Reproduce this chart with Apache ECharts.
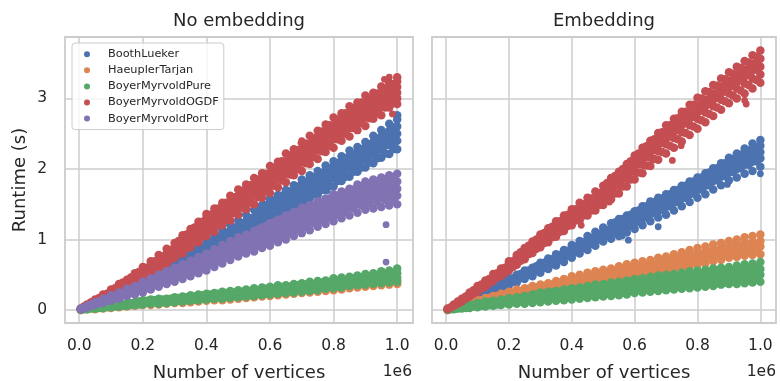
<!DOCTYPE html>
<html><head><meta charset="utf-8">
<script src="https://cdn.jsdelivr.net/npm/echarts@6/dist/echarts.min.js"></script>
<style>html,body{margin:0;padding:0;background:#fff}#chart{width:780px;height:381px}</style>
</head><body><div id="chart"></div>
<script>
// ---------- data ----------
const seriesNames = ['BoothLueker', 'HaeuplerTarjan', 'BoyerMyrvoldPure', 'BoyerMyrvoldOGDF', 'BoyerMyrvoldPort'];
const panelTitles = ['No embedding', 'Embedding'];
const xTicks = [0, 200000, 400000, 600000, 800000, 1000000];
const yTicks = [0, 1, 2, 3];
// number of vertices for the runs (two interleaved sets of columns)
const vertexCounts = [5000, 25000, 50000, 75000, 100000, 125000, 150000, 175000, 200000, 225000,
  250000, 275000, 300000, 325000, 350000, 375000, 400000, 425000, 450000, 475000,
  500000, 525000, 550000, 575000, 600000, 625000, 650000, 675000, 700000, 725000,
  750000, 775000, 800000, 825000, 850000, 875000, 900000, 925000, 950000, 975000, 1000000];
const vertexCountsMid = [15000, 37500, 62500, 87500, 112500, 137500, 162500, 187500, 212500, 237500,
  262500, 287500, 312500, 337500, 362500, 387500, 412500, 437500, 462500, 487500,
  512500, 537500, 562500, 587500, 612500, 637500, 662500, 687500, 712500, 737500,
  762500, 787500, 812500, 837500, 862500, 887500, 912500, 937500, 962500, 987500];

// ----- No embedding panel: runtimes (s) -----
const noEmbBooth = [[0.01],[0.04,0.06],[0.07,0.10],[0.11,0.15],[0.14,0.18,0.22],[0.19,0.24,0.27],[0.24,0.29,0.33],[0.29,0.35,0.39],[0.34,0.40,0.46],[0.40,0.46,0.53],
  [0.45,0.51,0.56,0.60],[0.51,0.57,0.63,0.66],[0.57,0.63,0.68,0.74],[0.62,0.69,0.75,0.80],[0.69,0.76,0.81,0.88],[0.74,0.82,0.88,0.94],[0.80,0.87,0.93,1.01],[0.85,0.93,0.99,1.06],[0.92,1.00,1.07,1.14],[0.97,1.06,1.12,1.21],
  [1.03,1.11,1.18,1.27],[1.09,1.18,1.26,1.35],[1.16,1.25,1.32,1.42],[1.21,1.31,1.39,1.49],[1.27,1.37,1.45,1.53,1.58],[1.33,1.43,1.51,1.59,1.63],[1.38,1.49,1.57,1.66,1.70],[1.46,1.56,1.64,1.72,1.77],[1.50,1.62,1.70,1.78,1.85],[1.58,1.68,1.76,1.85,1.91],
  [1.63,1.74,1.83,1.92,1.97],[1.70,1.81,1.89,1.98,2.05],[1.75,1.87,1.95,2.04,2.11],[1.83,1.94,2.02,2.11,2.18],[1.89,2.01,2.09,2.18,2.26],[1.96,2.07,2.15,2.24,2.31],[2.02,2.14,2.22,2.31,2.38],[2.08,2.20,2.29,2.38,2.47],[2.16,2.28,2.37,2.46,2.55],[2.21,2.34,2.44,2.54,2.64],
  [2.28,2.40,2.50,2.60,2.70,2.76]];
const noEmbBoothMid = [[0.03],[0.06,0.08],[0.10,0.12],[0.14,0.17],[0.18,0.22],[0.23,0.28],[0.28,0.34],[0.34,0.40],[0.39,0.45],[0.44,0.51],
  [0.50,0.56],[0.55,0.61,0.65],[0.61,0.67,0.71],[0.67,0.73,0.78],[0.73,0.79,0.85],[0.79,0.85,0.91],[0.85,0.91,0.97],[0.91,0.98,1.04],[0.97,1.04,1.10],[1.03,1.10,1.17],
  [1.08,1.16,1.23],[1.14,1.22,1.30],[1.21,1.29,1.36,1.42],[1.27,1.35,1.43,1.49],[1.33,1.41,1.49,1.55],[1.39,1.47,1.55,1.62],[1.45,1.54,1.61,1.68],[1.51,1.60,1.68,1.75],[1.57,1.66,1.74,1.81],[1.64,1.73,1.80,1.88],
  [1.70,1.79,1.87,1.94],[1.76,1.86,1.93,2.01],[1.83,1.92,2.00,2.08],[1.89,1.99,2.07,2.15],[1.96,2.05,2.13,2.21],[2.02,2.12,2.20,2.28],[2.09,2.19,2.27,2.35],[2.15,2.26,2.35,2.43],[2.22,2.33,2.42,2.51],[2.29,2.41,2.50,2.59]];
const noEmbBoothExtra = [[990000,2.27],[990000,2.34],[780000,1.69],[876000,2.00],[880000,2.05],[700000,1.57]];

const noEmbHaeupler = [[0.00,0.01],[0.01,0.02],[0.01,0.03],[0.02,0.04],[0.03,0.05],[0.04,0.06],[0.05,0.07],[0.06,0.08],[0.07,0.10],[0.07,0.11],
  [0.08,0.11],[0.09,0.12],[0.10,0.13],[0.10,0.14],[0.11,0.15],[0.12,0.16],[0.13,0.17],[0.14,0.18],[0.14,0.19],[0.15,0.20],
  [0.16,0.21],[0.17,0.22],[0.18,0.23],[0.19,0.24],[0.20,0.25],[0.21,0.26],[0.22,0.27],[0.23,0.28],[0.24,0.29],[0.25,0.30],
  [0.26,0.32],[0.27,0.33],[0.28,0.34],[0.29,0.35],[0.31,0.37],[0.32,0.38],[0.33,0.39],[0.34,0.40],[0.35,0.41],[0.36,0.42],
  [0.37,0.43]];

const noEmbPure = [[0.00,0.01],[0.01,0.03],[0.02,0.04],[0.03,0.06],[0.04,0.07],[0.05,0.09],[0.06,0.10],[0.07,0.11],[0.08,0.12,0.14],[0.09,0.13,0.15],
  [0.09,0.13,0.16],[0.10,0.14,0.16],[0.11,0.15,0.18],[0.12,0.16,0.19],[0.13,0.17,0.21],[0.14,0.18,0.22],[0.15,0.19,0.23],[0.16,0.20,0.24],[0.16,0.21,0.26],[0.17,0.22,0.27],
  [0.18,0.23,0.28],[0.19,0.24,0.29],[0.20,0.25,0.31],[0.21,0.27,0.32],[0.22,0.28,0.33],[0.23,0.29,0.35],[0.24,0.30,0.35],[0.25,0.31,0.37],[0.26,0.32,0.38],[0.27,0.33,0.40],
  [0.28,0.35,0.41],[0.30,0.36,0.42],[0.31,0.38,0.45],[0.32,0.39,0.46],[0.34,0.41,0.47],[0.35,0.42,0.49],[0.36,0.43,0.51],[0.37,0.45,0.52],[0.38,0.46,0.55],[0.39,0.47,0.56],
  [0.40,0.46,0.52,0.59]];
const noEmbPureMid = [[0.01],[0.02,0.03],[0.03,0.05],[0.04,0.06],[0.05,0.08],[0.06,0.09],[0.07,0.10],[0.08,0.12],[0.10,0.13],[0.11,0.14],
  [0.11,0.15],[0.12,0.16],[0.13,0.17],[0.14,0.18],[0.15,0.19],[0.16,0.21],[0.17,0.22],[0.18,0.23],[0.19,0.24],[0.20,0.25],
  [0.20,0.26],[0.21,0.27],[0.23,0.28],[0.24,0.30],[0.25,0.31],[0.26,0.32],[0.27,0.33],[0.28,0.35],[0.29,0.36],[0.30,0.37],
  [0.32,0.39],[0.33,0.40],[0.34,0.42],[0.36,0.43],[0.37,0.45],[0.38,0.46],[0.40,0.48],[0.41,0.49],[0.42,0.50],[0.43,0.51]];

const noEmbOGDF = [[0.01,0.02],[0.05,0.08],[0.09,0.13,0.15],[0.14,0.19,0.22],[0.19,0.25,0.29],[0.25,0.30,0.37],[0.31,0.38,0.43],[0.38,0.45,0.52],[0.44,0.50,0.57,0.61],[0.51,0.58,0.64,0.69],
  [0.58,0.66,0.71,0.78],[0.66,0.73,0.80,0.87],[0.74,0.81,0.89,0.95],[0.80,0.90,0.98,1.06],[0.89,0.97,1.06,1.15],[0.96,1.06,1.14,1.25],[1.05,1.13,1.22,1.30,1.36],[1.11,1.22,1.30,1.38,1.44],[1.20,1.29,1.37,1.46,1.52],[1.27,1.38,1.46,1.53,1.62],
  [1.35,1.46,1.55,1.62,1.71],[1.43,1.53,1.62,1.71,1.78],[1.50,1.62,1.70,1.78,1.87],[1.59,1.69,1.78,1.87,1.94],[1.66,1.77,1.85,1.94,2.04],[1.74,1.86,1.94,2.02,2.10],[1.81,1.93,2.02,2.11,2.22],[1.91,2.01,2.10,2.19,2.28],[1.97,2.09,2.18,2.28,2.37],[2.07,2.17,2.27,2.36,2.47],
  [2.14,2.26,2.35,2.45,2.54],[2.24,2.34,2.44,2.53,2.63],[2.30,2.42,2.52,2.62,2.73],[2.40,2.50,2.60,2.70,2.79],[2.46,2.58,2.68,2.78,2.89],[2.55,2.65,2.75,2.85,2.94],[2.61,2.73,2.83,2.93,3.04],[2.71,2.81,2.90,2.99,3.08],[2.76,2.88,2.97,3.07,3.17],[2.87,2.95,3.04,3.13,3.22],
  [2.92,3.00,3.08,3.16,3.24,3.30]];
const noEmbOGDFMid = [[0.03,0.05],[0.08,0.11],[0.13,0.17],[0.18,0.23],[0.23,0.28,0.31],[0.30,0.35,0.39],[0.36,0.42,0.46],[0.43,0.49,0.54],[0.49,0.55,0.60],[0.57,0.63,0.69],
  [0.64,0.70,0.76],[0.72,0.79,0.85],[0.80,0.87,0.94,0.98],[0.88,0.95,1.02,1.07],[0.97,1.04,1.11,1.17],[1.04,1.12,1.19,1.25],[1.13,1.21,1.28,1.35],[1.20,1.29,1.36,1.44],[1.28,1.37,1.44,1.52],[1.37,1.45,1.53,1.60],
  [1.45,1.53,1.61,1.69],[1.52,1.62,1.69,1.77],[1.60,1.70,1.77,1.85],[1.68,1.77,1.86,1.93],[1.76,1.86,1.94,2.02],[1.84,1.94,2.01,2.11],[1.92,2.02,2.10,2.19],[2.00,2.10,2.19,2.27],[2.08,2.18,2.27,2.36],[2.17,2.27,2.35,2.44],
  [2.25,2.35,2.44,2.53],[2.33,2.44,2.52,2.62],[2.42,2.52,2.61,2.70],[2.50,2.60,2.69,2.79],[2.58,2.68,2.77,2.86],[2.65,2.75,2.84,2.94],[2.72,2.82,2.91,3.00],[2.79,2.89,2.98,3.07],[2.87,2.97,3.06,3.14],[2.93,3.03,3.12,3.20]];
const noEmbOGDFExtra = [[985000,2.78],[960000,3.27],[975000,3.30],[700000,2.40]];

const noEmbPort = [[0.01,0.02],[0.04,0.06],[0.07,0.10,0.11],[0.10,0.13,0.16],[0.13,0.17,0.21],[0.16,0.21,0.25],[0.20,0.25,0.30],[0.22,0.28,0.34],[0.25,0.31,0.36,0.40],[0.29,0.35,0.40,0.45],
  [0.33,0.39,0.44,0.50],[0.37,0.44,0.49,0.55],[0.40,0.47,0.53,0.60],[0.44,0.52,0.58,0.65],[0.48,0.56,0.62,0.70],[0.52,0.61,0.67,0.75],[0.56,0.65,0.71,0.80],[0.61,0.70,0.77,0.86],[0.66,0.75,0.82,0.92],[0.71,0.81,0.88,0.98],
  [0.76,0.86,0.93,1.03],[0.80,0.90,0.97,1.07],[0.83,0.94,1.01,1.12],[0.88,0.98,1.06,1.17],[0.91,1.02,1.10,1.18,1.23],[0.96,1.07,1.15,1.23,1.28],[1.00,1.12,1.20,1.28,1.34],[1.05,1.17,1.25,1.33,1.39],[1.09,1.21,1.30,1.38,1.45],[1.13,1.25,1.34,1.42,1.49],
  [1.18,1.30,1.39,1.47,1.54],[1.22,1.34,1.43,1.51,1.58],[1.26,1.38,1.47,1.56,1.64],[1.30,1.42,1.51,1.60,1.68],[1.34,1.46,1.55,1.64,1.72],[1.38,1.51,1.60,1.69,1.78],[1.42,1.55,1.64,1.73,1.82],[1.44,1.57,1.67,1.76,1.85],[1.46,1.59,1.69,1.78,1.88],[1.48,1.61,1.72,1.81,1.91],
  [1.50,1.62,1.72,1.82,1.93]];
const noEmbPortMid = [[0.03],[0.06,0.08],[0.10,0.12],[0.13,0.16],[0.17,0.20],[0.21,0.24],[0.24,0.29],[0.27,0.33],[0.31,0.37],[0.35,0.42],
  [0.39,0.46,0.50],[0.43,0.50,0.55],[0.47,0.54,0.60],[0.51,0.59,0.64],[0.55,0.63,0.69],[0.59,0.67,0.74],[0.64,0.72,0.79],[0.69,0.77,0.84],[0.74,0.83,0.90],[0.79,0.88,0.95],
  [0.83,0.92,0.99],[0.87,0.96,1.03],[0.91,1.00,1.08,1.14],[0.95,1.05,1.12,1.19],[1.00,1.10,1.17,1.24],[1.04,1.14,1.22,1.29],[1.09,1.19,1.27,1.34],[1.14,1.24,1.32,1.39],[1.18,1.28,1.36,1.44],[1.23,1.33,1.41,1.48],
  [1.27,1.37,1.45,1.53],[1.31,1.42,1.50,1.58],[1.35,1.46,1.54,1.62],[1.39,1.50,1.58,1.66],[1.44,1.55,1.63,1.71],[1.48,1.59,1.67,1.75],[1.51,1.62,1.70,1.79],[1.53,1.64,1.73,1.82],[1.56,1.67,1.76,1.85],[1.57,1.68,1.78,1.87]];
const noEmbPortExtra = [[965000,1.21],[965000,0.68]];

// ----- Embedding panel: runtimes (s) -----
const embBooth = [[0.01],[0.04,0.06],[0.08,0.11],[0.13,0.17],[0.17,0.20,0.23],[0.21,0.25,0.28],[0.26,0.30,0.34],[0.30,0.35,0.39],[0.35,0.40,0.45],[0.39,0.45,0.50],
  [0.44,0.50,0.56],[0.48,0.54,0.60],[0.53,0.59,0.64,0.67],[0.58,0.64,0.69,0.73],[0.63,0.69,0.74,0.79],[0.68,0.75,0.80,0.85],[0.74,0.81,0.86,0.92],[0.80,0.87,0.92,0.98],[0.85,0.93,0.98,1.05],[0.91,0.99,1.04,1.11],
  [0.97,1.04,1.10,1.17],[1.01,1.09,1.15,1.23],[1.05,1.14,1.20,1.29],[1.10,1.19,1.25,1.34],[1.15,1.24,1.31,1.40],[1.20,1.30,1.37,1.47],[1.26,1.36,1.43,1.54],[1.31,1.41,1.48,1.59],[1.35,1.46,1.53,1.64],[1.41,1.52,1.59,1.70],
  [1.47,1.58,1.65,1.76],[1.53,1.64,1.71,1.82],[1.59,1.70,1.77,1.88],[1.64,1.76,1.83,1.94],[1.71,1.83,1.90,2.01],[1.77,1.89,1.96,2.08],[1.84,1.95,2.03,2.11,2.16],[1.88,2.00,2.08,2.16,2.22],[1.93,2.06,2.14,2.22,2.29],[1.97,2.10,2.19,2.28,2.36],
  [2.03,2.15,2.24,2.33,2.41]];
const embBoothMid = [[0.03],[0.07,0.08],[0.11,0.14],[0.16,0.19],[0.21,0.24],[0.26,0.29],[0.30,0.35],[0.35,0.40],[0.40,0.45],[0.45,0.51],
  [0.50,0.56],[0.55,0.62],[0.60,0.67],[0.65,0.72],[0.71,0.78],[0.77,0.84],[0.82,0.90],[0.88,0.96],[0.94,1.02],[1.00,1.08],
  [1.05,1.13],[1.10,1.18,1.24],[1.14,1.23,1.29],[1.19,1.28,1.35],[1.25,1.34,1.41],[1.31,1.40,1.47],[1.37,1.46,1.53],[1.42,1.51,1.58],[1.47,1.56,1.64],[1.53,1.62,1.70],
  [1.59,1.68,1.76],[1.65,1.74,1.82],[1.71,1.80,1.88],[1.77,1.87,1.95],[1.84,1.93,2.01],[1.90,2.00,2.08],[1.96,2.06,2.14],[2.01,2.11,2.20],[2.06,2.17,2.26],[2.11,2.22,2.31]];
const embBoothExtra = [[1000000,1.93],[580000,0.99],[560000,1.05],[675000,1.18],[895000,1.78]];

const embHaeupler = [[0.00,0.01],[0.02,0.04],[0.04,0.07],[0.06,0.10],[0.08,0.11,0.14],[0.10,0.14,0.17],[0.13,0.17,0.20],[0.15,0.19,0.23],[0.17,0.22,0.26],[0.19,0.24,0.29],
  [0.21,0.26,0.31],[0.23,0.28,0.34],[0.25,0.31,0.36],[0.27,0.33,0.38],[0.29,0.35,0.41],[0.31,0.37,0.44],[0.32,0.39,0.45,0.48],[0.34,0.41,0.47,0.50],[0.36,0.43,0.49,0.53],[0.38,0.45,0.51,0.55],
  [0.39,0.47,0.53,0.57],[0.41,0.49,0.55,0.59],[0.43,0.51,0.57,0.62],[0.45,0.53,0.59,0.65],[0.47,0.55,0.62,0.67],[0.49,0.57,0.64,0.69],[0.51,0.59,0.66,0.71],[0.52,0.61,0.68,0.74],[0.54,0.63,0.70,0.76],[0.57,0.66,0.73,0.79],
  [0.59,0.69,0.76,0.82],[0.61,0.71,0.78,0.85],[0.64,0.74,0.81,0.88],[0.66,0.76,0.83,0.90],[0.69,0.79,0.86,0.93],[0.71,0.81,0.88,0.95],[0.74,0.84,0.91,0.98],[0.75,0.86,0.93,1.00],[0.77,0.88,0.95,1.03],[0.78,0.89,0.96,1.05],
  [0.79,0.90,0.98,1.07]];
const embHaeuplerMid = [[0.02],[0.03,0.05],[0.05,0.08],[0.08,0.11],[0.10,0.14],[0.13,0.17],[0.15,0.20],[0.18,0.22],[0.20,0.25],[0.22,0.27],
  [0.24,0.30],[0.26,0.32],[0.28,0.34],[0.30,0.36],[0.32,0.39],[0.34,0.41],[0.36,0.43],[0.38,0.45],[0.40,0.47],[0.42,0.49],
  [0.44,0.51],[0.46,0.53],[0.48,0.56],[0.50,0.58],[0.52,0.60],[0.54,0.62],[0.56,0.64],[0.58,0.66],[0.60,0.69],[0.63,0.72],
  [0.65,0.74],[0.68,0.77],[0.70,0.79],[0.73,0.82],[0.75,0.84],[0.78,0.87],[0.80,0.89],[0.82,0.91],[0.83,0.93],[0.84,0.94]];

const embPure = [[0.00,0.01],[0.01,0.03],[0.02,0.05],[0.03,0.07],[0.04,0.07,0.10],[0.05,0.09,0.12],[0.06,0.10,0.13],[0.07,0.11,0.15],[0.08,0.13,0.17],[0.09,0.14,0.18],
  [0.09,0.15,0.20],[0.10,0.16,0.22],[0.11,0.17,0.22,0.25],[0.12,0.18,0.23,0.26],[0.13,0.19,0.24,0.27],[0.14,0.20,0.25,0.29],[0.15,0.22,0.27,0.31],[0.16,0.23,0.28,0.32],[0.17,0.24,0.29,0.34],[0.18,0.25,0.31,0.36],
  [0.19,0.26,0.32,0.37],[0.20,0.28,0.33,0.39],[0.21,0.29,0.35,0.40],[0.22,0.30,0.36,0.42],[0.24,0.32,0.38,0.44],[0.25,0.33,0.39,0.45],[0.26,0.34,0.40,0.47],[0.27,0.36,0.42,0.49],[0.28,0.37,0.43,0.50],[0.29,0.38,0.44,0.51],
  [0.30,0.39,0.45,0.53],[0.31,0.40,0.47,0.55],[0.32,0.41,0.48,0.56],[0.33,0.42,0.49,0.57],[0.34,0.44,0.51,0.59],[0.36,0.45,0.52,0.60],[0.37,0.46,0.53,0.61],[0.37,0.47,0.54,0.63],[0.38,0.48,0.56,0.65],[0.39,0.49,0.57,0.66],
  [0.40,0.50,0.58,0.68]];
const embPureMid = [[0.01],[0.02,0.03],[0.03,0.05],[0.05,0.07],[0.06,0.09],[0.07,0.11],[0.08,0.12],[0.10,0.14],[0.11,0.15],[0.12,0.17],
  [0.13,0.18],[0.14,0.19,0.22],[0.15,0.20,0.23],[0.16,0.21,0.25],[0.17,0.22,0.26],[0.18,0.23,0.28],[0.19,0.25,0.29],[0.20,0.26,0.30],[0.21,0.27,0.32],[0.22,0.28,0.33],
  [0.23,0.29,0.35],[0.24,0.30,0.36],[0.25,0.32,0.38],[0.27,0.33,0.39],[0.28,0.35,0.41],[0.29,0.36,0.42],[0.30,0.37,0.44],[0.31,0.38,0.45],[0.32,0.39,0.46],[0.33,0.40,0.47],
  [0.34,0.41,0.49],[0.35,0.42,0.50],[0.36,0.43,0.51],[0.37,0.45,0.52],[0.38,0.46,0.54],[0.39,0.47,0.55],[0.40,0.48,0.56],[0.41,0.49,0.58],[0.42,0.50,0.59],[0.43,0.51,0.60]];

const embOGDF = [[0.01,0.02],[0.06,0.08],[0.12,0.16],[0.19,0.22,0.25],[0.26,0.30,0.34],[0.33,0.38,0.42],[0.41,0.46,0.51],[0.48,0.54,0.59],[0.56,0.61,0.66,0.69],[0.64,0.70,0.75,0.78],
  [0.72,0.78,0.83,0.88],[0.81,0.87,0.92,0.97],[0.89,0.96,1.01,1.07],[0.96,1.04,1.09,1.16],[1.04,1.12,1.18,1.26],[1.12,1.20,1.26,1.34],[1.20,1.28,1.35,1.43],[1.27,1.36,1.43,1.52],[1.34,1.43,1.50,1.59],[1.41,1.51,1.58,1.68],
  [1.49,1.59,1.66,1.76],[1.57,1.67,1.75,1.82,1.87],[1.65,1.76,1.84,1.91,1.96],[1.75,1.86,1.94,2.01,2.07],[1.85,1.96,2.04,2.12,2.19],[1.94,2.06,2.14,2.22,2.30],[2.04,2.16,2.24,2.32,2.40],[2.13,2.25,2.34,2.42,2.51],[2.22,2.35,2.44,2.53,2.62],[2.30,2.44,2.53,2.62,2.71],
  [2.39,2.52,2.62,2.71,2.81],[2.48,2.62,2.71,2.80,2.91],[2.57,2.71,2.80,2.89,3.01],[2.66,2.80,2.89,2.98,3.10],[2.75,2.89,2.98,3.07,3.19],[2.84,2.98,3.07,3.16,3.28],[2.93,3.07,3.16,3.25,3.37],[3.00,3.14,3.23,3.33,3.45],[3.07,3.21,3.31,3.41,3.53],[3.14,3.28,3.39,3.49,3.61],
  [3.22,3.34,3.45,3.56,3.68]];
const embOGDFMid = [[0.04],[0.09,0.12],[0.16,0.19],[0.23,0.28],[0.31,0.36],[0.38,0.44],[0.46,0.52],[0.53,0.60],[0.61,0.69],[0.70,0.77,0.82],
  [0.79,0.86,0.91],[0.87,0.95,1.00],[0.95,1.03,1.09],[1.03,1.11,1.18],[1.11,1.19,1.26],[1.19,1.28,1.35],[1.27,1.36,1.43],[1.34,1.43,1.50],[1.41,1.51,1.58],[1.49,1.59,1.66],
  [1.57,1.67,1.74,1.80],[1.65,1.76,1.83,1.90],[1.75,1.86,1.93,2.00],[1.85,1.96,2.03,2.11],[1.95,2.07,2.14,2.22],[2.05,2.17,2.24,2.32],[2.14,2.27,2.34,2.42],[2.24,2.37,2.44,2.52],[2.33,2.46,2.53,2.62],[2.42,2.55,2.63,2.72],
  [2.51,2.65,2.72,2.81],[2.60,2.74,2.81,2.91],[2.69,2.83,2.90,3.00],[2.78,2.92,2.99,3.09],[2.87,3.01,3.08,3.18],[2.96,3.10,3.17,3.27],[3.04,3.18,3.25,3.35],[3.11,3.26,3.33,3.43],[3.19,3.34,3.41,3.51],[3.26,3.41,3.49,3.59]];
const embOGDFExtra = [[720000,2.12],[748000,2.33],[955000,2.92],[950000,2.97],[430000,1.20],[520000,1.53]];

// ---------- chart ----------
const FONT = 'DejaVu Sans';
const TXT = '#262626';
const GRIDC = '#cccccc';
const colors = ['#4C72B0', '#DD8452', '#55A868', '#C44E52', '#8172B3'];

function toPoints(rows, xs, pts) {
  if (!rows) return pts;
  rows.forEach((ys, i) => { if (i < xs.length) ys.forEach(y => pts.push([xs[i], y])); });
  return pts;
}

const panels = [
  [[noEmbBooth, noEmbBoothMid, noEmbBoothExtra], [noEmbHaeupler, null, null], [noEmbPure, noEmbPureMid, null],
   [noEmbOGDF, noEmbOGDFMid, noEmbOGDFExtra], [noEmbPort, noEmbPortMid, noEmbPortExtra]],
  [[embBooth, embBoothMid, embBoothExtra], [embHaeupler, embHaeuplerMid, null], [embPure, embPureMid, null],
   [embOGDF, embOGDFMid, embOGDFExtra]]
];

const series = [];
panels.forEach((p, gi) => {
  p.forEach((s, k) => {
    const pts = [];
    toPoints(s[0], vertexCounts, pts);
    toPoints(s[1], vertexCountsMid, pts);
    const bandCount = pts.length;
    const data = s[2] ? pts.concat(s[2]) : pts;
    series.push({
      type: 'scatter', name: seriesNames[k], xAxisIndex: gi, yAxisIndex: gi,
      data: data,
      symbol: 'circle',
      symbolSize: (val, params) => (params.dataIndex < bandCount ? 8.5 : 6.8),
      itemStyle: { color: colors[k], opacity: 1 },
      emphasis: { disabled: true }, silent: true, animation: false
    });
  });
});

function xAxisDef(gi) {
  return {
    type: 'value', gridIndex: gi, min: -44750, max: 1049750,
    axisLine: { show: false },
    axisTick: { show: false, customValues: xTicks },
    axisLabel: { customValues: xTicks, margin: 15, fontSize: 15.5, color: TXT, fontFamily: FONT,
      formatter: v => (v / 1e6).toFixed(1) },
    splitLine: { show: true, lineStyle: { color: GRIDC, width: 1.5 } },
    name: 'Number of vertices', nameLocation: 'middle', nameGap: 41,
    nameTextStyle: { fontSize: 18, color: TXT, fontFamily: FONT }
  };
}
function yAxisDef(gi) {
  return {
    type: 'value', gridIndex: gi, min: -0.184, max: 3.87,
    axisLine: { show: false },
    axisTick: { show: false, customValues: yTicks },
    axisLabel: { show: gi === 0, customValues: yTicks, margin: 18, fontSize: 15.5, color: TXT, fontFamily: FONT,
      formatter: v => String(Math.round(v)) },
    splitLine: { show: true, lineStyle: { color: GRIDC, width: 1.5 } },
    name: gi === 0 ? 'Runtime (s)' : '', nameLocation: 'middle', nameGap: 36,
    nameTextStyle: { fontSize: 18, color: TXT, fontFamily: FONT }
  };
}

const chart = echarts.init(document.getElementById('chart'), null, { renderer: 'canvas' });
chart.setOption({
  backgroundColor: '#ffffff',
  animation: false,
  title: [
    { text: panelTitles[0], left: 239, top: 12, textAlign: 'center', padding: 0,
      textStyle: { fontSize: 18, fontWeight: 'normal', color: TXT, fontFamily: FONT } },
    { text: panelTitles[1], left: 604, top: 12, textAlign: 'center', padding: 0,
      textStyle: { fontSize: 18, fontWeight: 'normal', color: TXT, fontFamily: FONT } },
    { text: '1e6', left: 412, top: 364, textAlign: 'right', padding: 0,
      textStyle: { fontSize: 15.5, fontWeight: 'normal', color: TXT, fontFamily: FONT } },
    { text: '1e6', left: 776, top: 364, textAlign: 'right', padding: 0,
      textStyle: { fontSize: 15.5, fontWeight: 'normal', color: TXT, fontFamily: FONT } }
  ],
  legend: {
    data: seriesNames, orient: 'vertical', left: 72, top: 43,
    icon: 'circle', itemWidth: 32, itemHeight: 6, itemGap: 5.1,
    padding: [5.7, 5, 5.5, 12],
    backgroundColor: 'rgba(255,255,255,0.8)', borderColor: GRIDC, borderWidth: 1, borderRadius: 3,
    textStyle: { fontSize: 11.3, color: TXT, fontFamily: FONT },
    selectedMode: false
  },
  grid: [
    { left: 65, top: 37, width: 348, height: 286, show: true, borderColor: GRIDC, borderWidth: 1.8, backgroundColor: 'transparent', outerBoundsMode: 'none', containLabel: false },
    { left: 432, top: 37, width: 344, height: 286, show: true, borderColor: GRIDC, borderWidth: 1.8, backgroundColor: 'transparent', outerBoundsMode: 'none', containLabel: false }
  ],
  xAxis: [xAxisDef(0), xAxisDef(1)],
  yAxis: [yAxisDef(0), yAxisDef(1)],
  series: series
});
</script></body></html>
